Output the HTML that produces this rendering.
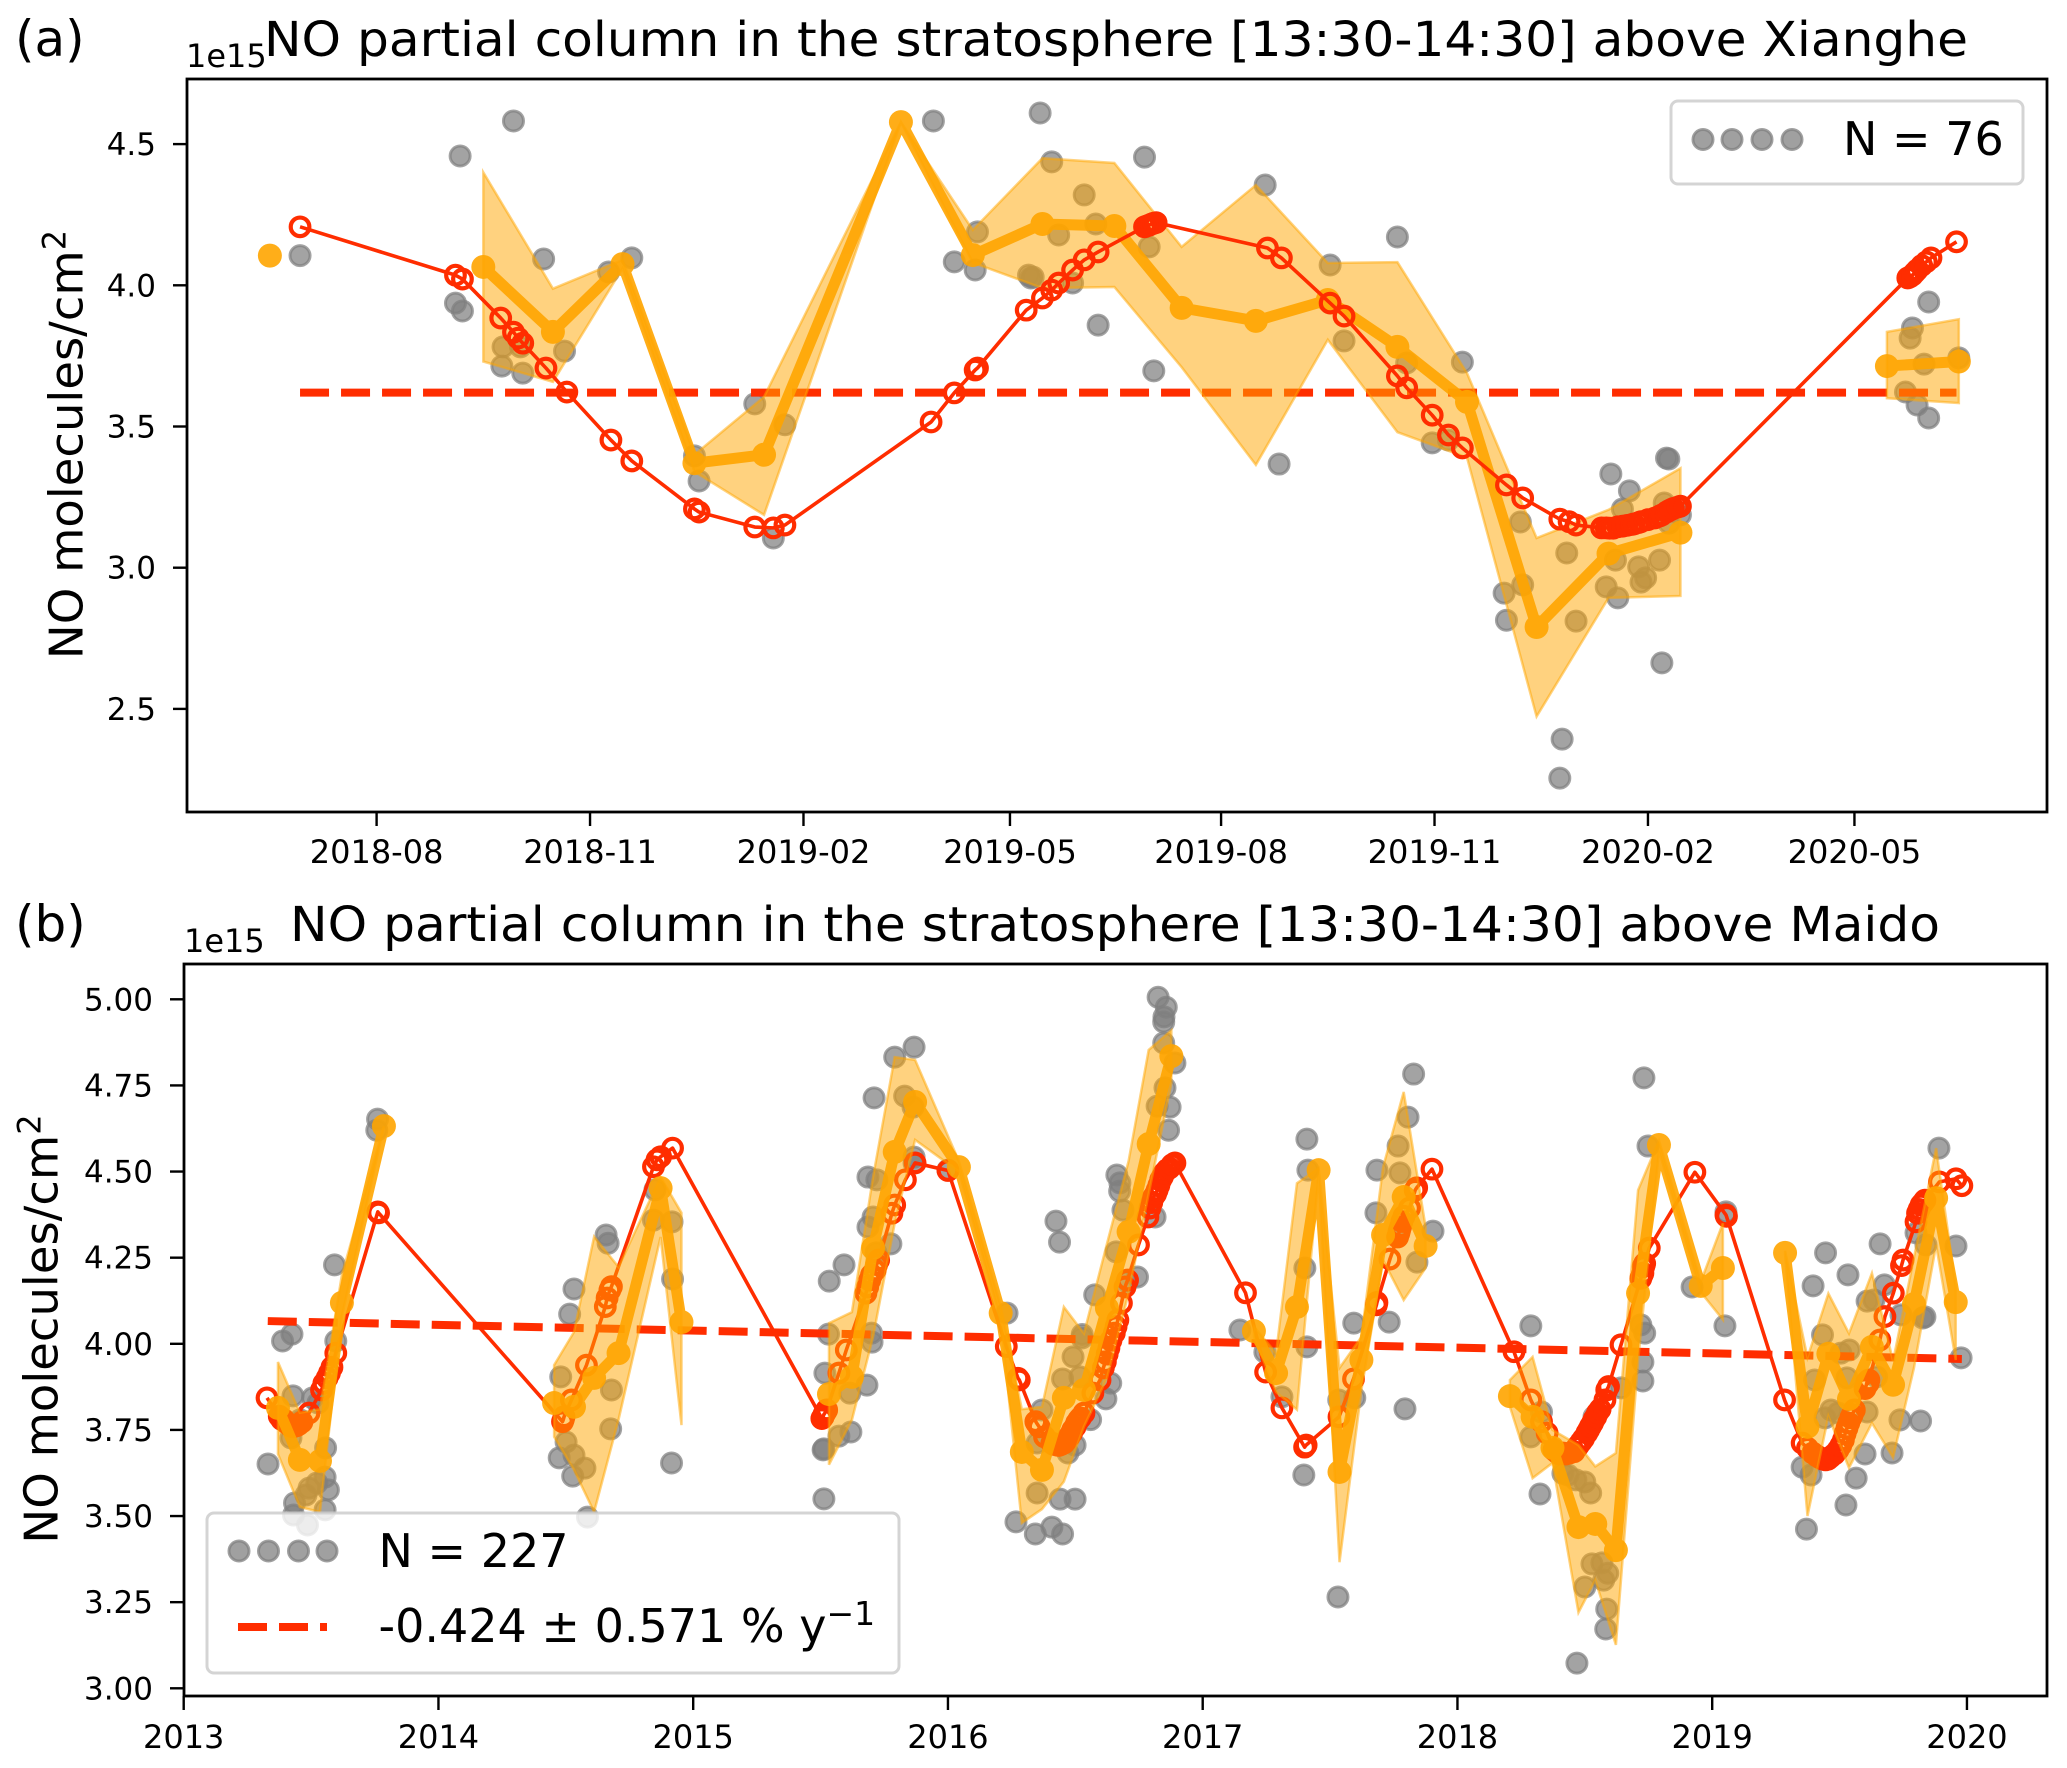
<!DOCTYPE html>
<html lang="en">
<head>
<meta charset="utf-8">
<title>NO partial column in the stratosphere</title>
<style>
html,body{margin:0;padding:0;background:#fff;}
svg{display:block;}
text{font-family:"DejaVu Sans","Liberation Sans",sans-serif;fill:#000;}
.tk{font-size:31px;}
.xt{font-size:32px;}
.big{font-size:46px;}
.ttl{font-size:48px;}
.let{font-size:50px;}
</style>
</head>
<body>
<svg id="chart" xmlns="http://www.w3.org/2000/svg" width="2067" height="1768" viewBox="0 0 2067 1768">
  <rect x="0" y="0" width="2067" height="1768" fill="#fff"/>
  <g id="panelA"></g>
  <g id="panelB"></g>

  <text class="let" x="15" y="56">(a)</text>
  <text class="ttl" x="264" y="56" textLength="1704" lengthAdjust="spacingAndGlyphs">NO partial column in the stratosphere [13:30-14:30] above Xianghe</text>
  <text class="xt" x="186" y="67">1e15</text>
  <text class="big" transform="translate(82.5,444.5) rotate(-90)" text-anchor="middle" style="font-size:46.5px">NO molecules/cm<tspan dy="-17" font-size="32">2</tspan></text>

  <text class="let" x="15" y="941">(b)</text>
  <text class="ttl" x="290" y="941" textLength="1650" lengthAdjust="spacingAndGlyphs">NO partial column in the stratosphere [13:30-14:30] above Maido</text>
  <text class="xt" x="184" y="952">1e15</text>
  <text class="big" transform="translate(57.5,1329) rotate(-90)" text-anchor="middle" style="font-size:46.5px">NO molecules/cm<tspan dy="-17" font-size="32">2</tspan></text>

  <g>
    <rect x="1671" y="101" width="352" height="83" rx="7" fill="#fff" fill-opacity="0.8" stroke="#ccc" stroke-opacity="0.85" stroke-width="3"/>
    <g fill="#808080" fill-opacity="0.75" stroke="#808080" stroke-opacity="0.75" stroke-width="3">
      <circle cx="1703" cy="139.5" r="10"/>
      <circle cx="1732" cy="139.5" r="10"/>
      <circle cx="1762" cy="139.5" r="10"/>
      <circle cx="1792" cy="139.5" r="10"/>
    </g>
    <text class="big" x="1843" y="155">N = 76</text>
  </g>

  <g>
    <rect x="207" y="1513" width="692" height="160" rx="7" fill="#fff" fill-opacity="0.8" stroke="#ccc" stroke-opacity="0.85" stroke-width="3"/>
    <g fill="#808080" fill-opacity="0.75" stroke="#808080" stroke-opacity="0.75" stroke-width="3">
      <circle cx="239" cy="1551" r="10"/>
      <circle cx="268.5" cy="1551" r="10"/>
      <circle cx="298.5" cy="1551" r="10"/>
      <circle cx="327" cy="1551" r="10"/>
    </g>
    <text class="big" x="378.5" y="1567">N = 227</text>
    <line x1="238" y1="1627" x2="327" y2="1627" stroke="#ff2d00" stroke-width="8" stroke-dasharray="29 12"/>
    <text class="big" x="378.5" y="1642">-0.424 ± 0.571 % y<tspan dy="-17" font-size="33">−1</tspan></text>
  </g>
</svg>

<script>
// ---------- Panel (a): Xianghe. x = days relative to Aug 2018, y = 1e15 molecules/cm2
const aXTickDays = [0, 92, 184, 273, 364, 456, 548, 637];
const aXTickLabels = ['2018-08', '2018-11', '2019-02', '2019-05', '2019-08', '2019-11', '2020-02', '2020-05'];
const aYTickLabels = ['2.5', '3.0', '3.5', '4.0', '4.5'];

const aScatterDays = [-33,36,59,34,37,54.5,62,54,63,72,81,100,110,163,176,137,139,171,240,249,259,258,286,281,282,291,305,331,310,294,300,283,311,333,335,383,411,417,440,444,468,455,462,669,662,661,667,682,659,664,669,389,493,513,494,486,487,517,511,510,532,540,537,534,530,535,544,547,545,553,554,556,557,555,562,557];
const aScatterVals = [4.105,4.458,4.582,3.937,3.909,3.782,3.782,3.714,3.689,4.093,3.767,4.047,4.097,3.58,3.506,3.396,3.307,3.105,4.582,4.083,4.189,4.054,4.61,4.036,4.026,4.437,4.32,4.454,4.217,4.178,4.008,4.029,3.859,4.136,3.697,4.355,4.072,3.803,4.171,3.725,3.728,3.442,3.452,3.941,3.849,3.813,3.721,3.743,3.622,3.576,3.53,3.367,3.162,3.052,2.939,2.91,2.814,2.811,2.393,2.255,3.332,3.272,3.208,3.027,2.932,2.893,3.003,2.964,2.949,3.027,2.663,3.388,3.385,3.229,3.187,3.158];

const aMeanDays = [-46,null,46,76,106,137,167,226,257,287,318,347,379,410,440,470,500,531,562,null,651,682];
const aMeanVals = [4.105,null,4.065,3.835,4.075,3.37,3.4,4.578,4.107,4.217,4.21,3.92,3.874,3.948,3.782,3.587,2.79,3.05,3.124,null,3.714,3.73];
const aBandUpper = [4.105,null,4.4,3.988,4.09,3.4,3.605,4.578,4.196,4.45,4.433,4.136,4.355,4.079,4.082,3.689,3.105,3.205,3.352,null,3.835,3.88];
const aBandLower = [4.105,null,3.73,3.658,4.06,3.34,3.187,4.578,4.08,3.99,3.994,3.71,3.364,3.807,3.48,3.39,2.473,2.893,2.9,null,3.6,3.583];

const aModelDays = [-33,34,37,53.5,59,61,63,73,82,101,110,137,139,163,171,176,239,249,258,259,280,287,291,294,300,305,311,331,332,333,334,335,336,384,390,411,417,440,444,455,462,468,487,494,510,514,517,528,530,531.5,533,535,537,539,541,542,544,545,548,551,553,554,556,557,558,559,561,562,660,661,662,663,664,666,668,670,681];
const aModelVals = [4.207,4.036,4.022,3.884,3.834,3.813,3.795,3.707,3.622,3.452,3.378,3.208,3.197,3.144,3.141,3.151,3.516,3.619,3.7,3.707,3.912,3.955,3.983,4.008,4.054,4.09,4.118,4.207,4.21,4.213,4.217,4.22,4.222,4.132,4.097,3.937,3.891,3.679,3.637,3.54,3.47,3.424,3.293,3.247,3.172,3.163,3.151,3.141,3.141,3.14,3.14,3.145,3.147,3.15,3.153,3.155,3.16,3.163,3.17,3.176,3.183,3.187,3.197,3.202,3.206,3.21,3.215,3.218,4.026,4.03,4.036,4.045,4.054,4.07,4.083,4.097,4.154];

const aTrendDays = [-33, 681];
const aTrendVals = [3.62, 3.62];

// ---------- Panel (b): Maido. x = decimal year, y = 1e15 molecules/cm2
const bXTickYears = [2013, 2014, 2015, 2016, 2017, 2018, 2019, 2020];
const bYTickLabels = ['3.00', '3.25', '3.50', '3.75', '4.00', '4.25', '4.50', '4.75', '5.00'];

const bScatterYears = [2013.761,2013.758,2013.592,2013.425,2013.388,2013.597,2013.429,2013.506,2013.421,2013.557,2013.331,2013.555,2013.523,2013.568,2013.492,2013.48,2013.435,2013.555,2013.431,2013.486,2013.527,2013.457,
2014.532,2014.515,2014.658,2014.666,2014.48,2014.679,2014.676,2014.501,2014.844,2014.917,2014.919,2014.915,2014.474,2014.532,2014.575,2014.527,2014.585,2014.85,
2015.531,2015.517,2015.51,2015.513,2015.534,2015.592,2015.572,2015.619,2015.615,2015.682,2015.7,2015.702,2015.71,2015.686,2015.721,2015.706,2015.686,2015.776,2015.791,2015.867,2015.83,2015.863,2015.867,2016.0,2015.718,2015.867,2015.513,
2016.232,2016.369,2016.45,2016.491,2016.526,2016.527,2016.518,2016.576,2016.639,2016.424,2016.438,2016.663,2016.674,2016.675,2016.687,2016.66,2016.744,2016.703,2016.813,2016.825,2016.857,2016.848,2016.847,2016.847,2016.891,2016.852,2016.821,2016.872,2016.866,2016.35,2016.499,2016.471,2016.35,2016.44,2016.499,2016.267,2016.343,2016.408,2016.45,2016.56,2016.62,
2017.146,2017.244,2017.311,2017.409,2017.413,2017.401,2017.409,2017.593,2017.597,2017.534,2017.684,2017.68,2017.732,2017.794,2017.771,2017.774,2017.767,2017.806,2017.828,2017.841,2017.904,2017.397,2017.531,
2018.288,2018.288,2018.33,2018.324,2018.414,2018.465,2018.5,2018.523,2018.536,2018.642,2018.72,2018.735,2018.728,2018.728,2018.732,2018.748,2018.921,2019.054,2019.05,2018.469,2018.5,2018.528,2018.567,2018.59,2018.574,2018.586,2018.582,2018.434,
2019.353,2019.388,2019.37,2019.396,2019.445,2019.533,2019.659,2019.608,2019.635,2019.676,2019.433,2019.505,2019.538,2019.402,2019.529,2019.466,2019.443,2019.494,2019.608,2019.6,2019.565,2019.525,2019.737,2019.818,2019.706,2019.741,2019.835,2019.827,2019.8,2019.839,2019.957,2019.89,2019.977,2019.645];
const bScatterVals = [4.652,4.62,4.229,4.028,4.008,4.008,3.849,3.843,3.727,3.698,3.651,3.613,3.596,3.576,3.581,3.561,3.538,3.518,3.503,3.474,3.828,3.779,
4.159,4.086,4.316,4.292,3.904,3.866,3.753,3.715,4.359,4.354,4.188,3.654,3.669,3.677,3.639,3.616,3.497,4.447,
4.028,3.915,3.692,3.695,4.182,4.229,3.732,3.744,3.857,3.88,4.031,4.005,4.714,4.484,4.476,4.368,4.339,4.29,4.832,4.861,4.719,4.687,4.542,4.504,4.264,4.525,3.55,
4.089,3.808,3.898,3.962,4.017,4.027,3.904,4.142,3.886,4.356,4.295,4.49,4.443,4.467,4.388,4.267,4.194,4.179,4.368,5.006,4.977,4.949,4.934,4.873,4.815,4.743,4.69,4.687,4.62,3.712,3.706,3.683,3.567,3.549,3.549,3.483,3.448,3.468,3.448,3.78,3.84,
4.04,3.976,3.846,4.594,4.504,4.22,3.991,4.06,3.843,3.837,4.504,4.38,4.063,3.811,4.327,4.496,4.574,4.658,4.783,4.237,4.327,3.619,3.265,
4.052,3.73,3.802,3.564,3.624,3.605,3.599,3.567,3.788,3.872,4.055,4.031,3.947,3.892,4.772,4.574,4.165,4.383,4.052,3.073,3.294,3.361,3.364,3.334,3.314,3.23,3.172,3.619,
3.642,3.619,3.462,4.168,4.264,4.2,4.29,4.124,4.127,4.171,4.026,3.973,3.982,3.895,3.901,3.808,3.785,3.799,3.802,3.68,3.61,3.532,3.779,3.776,3.683,4.084,4.078,4.075,4.322,4.287,4.284,4.568,3.959,3.904];

const bMeanYears = [2013.37,2013.456,2013.535,2013.621,2013.786,null,
2014.454,2014.532,2014.611,2014.707,2014.872,2014.954,null,
2015.533,2015.623,2015.706,2015.791,2015.871,2016.043,2016.207,2016.29,2016.369,2016.455,2016.534,2016.624,2016.709,2016.788,2016.877,null,
2017.201,2017.288,2017.37,2017.455,2017.537,2017.623,2017.708,2017.789,2017.875,null,
2018.206,2018.295,2018.373,2018.475,2018.541,2018.622,2018.709,2018.791,2018.955,2019.042,null,
2019.286,2019.374,2019.456,2019.537,2019.627,2019.71,2019.792,2019.879,2019.956];
const bMeanVals = [3.814,3.663,3.66,4.119,4.632,null,
3.828,3.817,3.901,3.973,4.452,4.063,null,
3.854,3.904,4.278,4.557,4.702,4.513,4.089,3.686,3.634,3.843,3.866,4.104,4.325,4.58,4.835,null,
4.037,3.915,4.107,4.504,3.628,3.953,4.316,4.426,4.284,null,
3.848,3.788,3.698,3.468,3.477,3.401,4.147,4.577,4.168,4.22,null,
4.264,3.759,3.971,3.84,3.991,3.881,4.115,4.423,4.121];
const bBandUpper = [3.947,3.8,3.81,4.2,4.632,null,
3.938,4.034,4.311,4.223,4.484,4.38,null,
4.06,4.092,4.484,4.832,4.824,4.53,4.11,3.81,3.817,4.107,4.03,4.29,4.53,4.853,4.91,null,
4.05,3.973,4.466,4.51,3.93,4.02,4.513,4.731,4.339,null,
3.895,3.962,3.75,3.706,3.644,3.683,4.446,4.59,4.18,4.35,null,
4.27,3.96,4.146,4.03,4.205,3.95,4.25,4.568,4.165];
const bBandLower = [3.68,3.526,3.512,4.08,4.632,null,
3.73,3.634,3.512,3.78,4.31,3.764,null,
3.649,3.779,4.02,4.35,4.592,4.5,4.07,3.48,3.52,3.6,3.76,3.9,4.147,4.436,4.757,null,
4.02,3.86,3.809,4.49,3.366,3.866,4.243,4.127,4.22,null,
3.817,3.61,3.654,3.22,3.314,3.126,3.95,4.56,4.15,4.07,null,
4.26,3.5,3.79,3.64,3.77,3.67,3.93,4.287,3.953];

const bModelYears = [2013.327,2013.375,2013.385,2013.394,2013.405,2013.418,2013.429,2013.443,2013.452,2013.464,2013.492,2013.541,2013.55,2013.563,2013.572,2013.582,2013.597,2013.762,2013.765,
2014.487,2014.49,2014.493,2014.522,2014.581,2014.655,2014.662,2014.673,2014.679,2014.844,2014.858,2014.872,2014.919,
2015.505,2015.51,2015.513,2015.517,2015.52,2015.524,2015.572,2015.601,2015.678,2015.685,2015.693,2015.7,2015.714,2015.72,2015.728,2015.78,2015.791,2015.833,2015.871,2016.0,
2016.229,2016.275,2016.28,2016.345,2016.348,2016.358,2016.379,2016.408,2016.415,2016.428,2016.435,2016.445,2016.456,2016.465,2016.475,2016.485,2016.49,2016.499,2016.505,2016.513,2016.52,2016.534,2016.569,2016.597,2016.61,2016.618,2016.625,2016.632,2016.64,2016.653,2016.66,2016.667,2016.681,2016.695,2016.705,2016.748,2016.785,2016.793,2016.8,2016.807,2016.815,2016.821,2016.828,2016.835,2016.842,2016.849,2016.86,2016.87,2016.88,2016.891,
2017.168,2017.247,2017.311,2017.4,2017.403,2017.406,2017.535,2017.592,2017.682,2017.684,2017.735,2017.765,2017.77,2017.773,2017.777,2017.782,2017.79,2017.812,2017.834,2017.84,2017.9,
2018.222,2018.288,2018.33,2018.352,2018.379,2018.39,2018.4,2018.415,2018.425,2018.44,2018.458,2018.47,2018.475,2018.486,2018.495,2018.508,2018.515,2018.522,2018.53,2018.536,2018.543,2018.55,2018.56,2018.579,2018.586,2018.593,2018.642,2018.72,2018.725,2018.728,2018.729,2018.732,2018.735,2018.753,2018.932,2019.054,2019.055,2019.056,
2019.284,2019.353,2019.374,2019.395,2019.41,2019.423,2019.435,2019.445,2019.455,2019.466,2019.48,2019.494,2019.505,2019.515,2019.522,2019.529,2019.536,2019.544,2019.55,2019.558,2019.6,2019.605,2019.608,2019.612,2019.615,2019.658,2019.678,2019.711,2019.743,2019.749,2019.8,2019.806,2019.812,2019.82,2019.828,2019.835,2019.892,2019.957,2019.98];
const bModelVals = [3.843,3.79,3.78,3.779,3.77,3.762,3.759,3.762,3.766,3.773,3.799,3.866,3.885,3.901,3.915,3.932,3.973,4.383,4.38,
3.774,3.78,3.788,3.837,3.938,4.108,4.133,4.156,4.166,4.514,4.534,4.543,4.568,
3.783,3.788,3.795,3.799,3.803,3.808,3.915,3.982,4.147,4.165,4.185,4.2,4.214,4.23,4.243,4.379,4.403,4.476,4.525,4.503,
3.992,3.9,3.895,3.774,3.77,3.759,3.73,3.712,3.708,3.706,3.705,3.708,3.712,3.72,3.73,3.741,3.75,3.759,3.77,3.779,3.785,3.799,3.857,3.895,3.93,3.948,3.97,3.988,4.01,4.031,4.05,4.069,4.118,4.165,4.185,4.287,4.368,4.394,4.41,4.426,4.435,4.446,4.46,4.476,4.485,4.496,4.505,4.51,4.52,4.525,
4.148,3.918,3.814,3.7,3.703,3.706,3.788,3.898,4.113,4.12,4.246,4.31,4.321,4.33,4.34,4.355,4.37,4.394,4.446,4.453,4.507,
3.977,3.837,3.774,3.741,3.692,3.685,3.68,3.683,3.68,3.683,3.687,3.7,3.705,3.716,3.725,3.741,3.75,3.76,3.77,3.78,3.788,3.8,3.81,3.837,3.866,3.876,3.997,4.19,4.2,4.205,4.224,4.225,4.233,4.278,4.498,4.374,4.372,4.37,
3.837,3.712,3.697,3.683,3.675,3.669,3.665,3.663,3.665,3.672,3.68,3.692,3.705,3.721,3.74,3.755,3.77,3.785,3.795,3.808,3.87,3.88,3.89,3.885,3.895,4.011,4.079,4.147,4.227,4.243,4.354,4.379,4.39,4.403,4.41,4.417,4.47,4.479,4.459];

const bTrendYears = [2013.33, 2019.98];
const bTrendVals = [4.066, 3.956];

// ---------- axis functions
function axisAX(d) { return 376.6 + 2.32 * d; }
function axisAY(v) { return 285.3 + (4 - v) * 282.4; }
function axisBX(y) { return 183.7 + 254.75 * (y - 2013); }
function axisBY(v) { return 1688.3 - (v - 3) * 344.5; }

const SVGNS = 'http://www.w3.org/2000/svg';
const RED = '#ff2d00';
const ORANGE = '#ffa500';

function make(parent, tag, attrs) {
  const el = document.createElementNS(SVGNS, tag);
  for (const k in attrs) el.setAttribute(k, attrs[k]);
  parent.appendChild(el);
  return el;
}

function segments(xs) {
  const out = [];
  let cur = [];
  xs.forEach(function (x, i) {
    if (x === null) { if (cur.length) out.push(cur); cur = []; }
    else cur.push(i);
  });
  if (cur.length) out.push(cur);
  return out;
}

function drawScatter(root, prefix, xs, ys, fx, fy) {
  const g = make(root, 'g', { fill: '#808080', 'fill-opacity': 0.72, stroke: '#808080', 'stroke-opacity': 0.72, 'stroke-width': 3 });
  
  
  xs.forEach(function (x, i) {
    const c = make(g, 'circle', { cx: fx(x), cy: fy(ys[i]), r: 10 });
    
    
  });
}

function drawTrend(root, prefix, xs, ys, fx, fy) {
  const l = make(root, 'line', { x1: fx(xs[0]), y1: fy(ys[0]), x2: fx(xs[1]), y2: fy(ys[1]), stroke: RED, 'stroke-width': 8, 'stroke-dasharray': '29 12' });
  
  
}

function drawModel(root, prefix, xs, ys, fx, fy) {
  const g = make(root, 'g', {});
  
  
  const pts = xs.map(function (x, i) { return fx(x) + ',' + fy(ys[i]); }).join(' ');
  const line = make(g, 'polyline', { points: pts, fill: 'none', stroke: RED, 'stroke-width': 3.6, 'stroke-linejoin': 'round' });
  
  
  xs.forEach(function (x, i) {
    const c = make(g, 'circle', { cx: fx(x), cy: fy(ys[i]), r: 9.3, fill: 'none', stroke: RED, 'stroke-width': 4.2 });
    
    
  });
}

function drawBand(root, prefix, xs, up, lo, fx, fy) {
  const g = make(root, 'g', { fill: ORANGE, 'fill-opacity': 0.5, stroke: ORANGE, 'stroke-opacity': 0.5, 'stroke-width': 2.5, 'stroke-linejoin': 'miter' });
  
  
  segments(xs).forEach(function (seg) {
    if (seg.length < 2) return;
    const top = seg.map(function (i) { return fx(xs[i]) + ',' + fy(up[i]); });
    const bot = seg.slice().reverse().map(function (i) { return fx(xs[i]) + ',' + fy(lo[i]); });
    const p = make(g, 'polygon', { points: top.concat(bot).join(' ') });
    
    
  });
}

function drawMean(root, prefix, xs, ys, fx, fy) {
  const g = make(root, 'g', { opacity: 0.9 });
  
  
  segments(xs).forEach(function (seg) {
    if (seg.length < 2) return;
    const pts = seg.map(function (i) { return fx(xs[i]) + ',' + fy(ys[i]); }).join(' ');
    const line = make(g, 'polyline', { points: pts, fill: 'none', stroke: ORANGE, 'stroke-width': 11, 'stroke-linejoin': 'round' });
    
    
  });
  xs.forEach(function (x, i) {
    if (x === null) return;
    const c = make(g, 'circle', { cx: fx(x), cy: fy(ys[i]), r: 12, fill: ORANGE });
    
    
  });
}

function drawAxes(root, prefix, box, xPos, xLabels, xBase, yVals, yLabels, fy, yRight) {
  const frame = make(root, 'rect', { x: box.l, y: box.t, width: box.r - box.l, height: box.b - box.t, fill: 'none', stroke: '#000', 'stroke-width': 2.8 });
  
  
  xPos.forEach(function (x, i) {
    const t = make(root, 'line', { x1: x, x2: x, y1: box.b, y2: box.b + 14, stroke: '#000', 'stroke-width': 2.4 });
    
    
    const lab = make(root, 'text', { x: x, y: xBase, 'text-anchor': 'middle', class: 'xt' });
    
    
    lab.textContent = xLabels[i];
  });
  yVals.forEach(function (v, i) {
    const y = fy(v);
    const t = make(root, 'line', { x1: box.l - 14, x2: box.l, y1: y, y2: y, stroke: '#000', 'stroke-width': 2.4 });
    
    
    const lab = make(root, 'text', { x: yRight, y: y + 11, 'text-anchor': 'end', class: 'tk' });
    
    
    lab.textContent = yLabels[i];
  });
}

// ---------- render panel (a)
const rootA = document.getElementById('panelA');
const bgA = make(rootA, 'rect', { x: 187, y: 79, width: 1860, height: 733, fill: '#fff' });


drawScatter(rootA, 'panel-a', aScatterDays, aScatterVals, axisAX, axisAY);
drawTrend(rootA, 'panel-a', aTrendDays, aTrendVals, axisAX, axisAY);
drawBand(rootA, 'panel-a', aMeanDays, aBandUpper, aBandLower, axisAX, axisAY);
drawMean(rootA, 'panel-a', aMeanDays, aMeanVals, axisAX, axisAY);
drawModel(rootA, 'panel-a', aModelDays, aModelVals, axisAX, axisAY);
drawAxes(rootA, 'panel-a', { l: 187, r: 2047, t: 79, b: 812 },
  aXTickDays.map(axisAX), aXTickLabels, 863,
  aYTickLabels.map(Number), aYTickLabels, axisAY, 156);

// ---------- render panel (b)
const rootB = document.getElementById('panelB');
const bgB = make(rootB, 'rect', { x: 184, y: 964, width: 1863, height: 732, fill: '#fff' });


drawScatter(rootB, 'panel-b', bScatterYears, bScatterVals, axisBX, axisBY);
drawTrend(rootB, 'panel-b', bTrendYears, bTrendVals, axisBX, axisBY);
drawModel(rootB, 'panel-b', bModelYears, bModelVals, axisBX, axisBY);
drawBand(rootB, 'panel-b', bMeanYears, bBandUpper, bBandLower, axisBX, axisBY);
drawMean(rootB, 'panel-b', bMeanYears, bMeanVals, axisBX, axisBY);
drawAxes(rootB, 'panel-b', { l: 184, r: 2047, t: 964, b: 1696 },
  bXTickYears.map(axisBX), bXTickYears.map(String), 1748,
  bYTickLabels.map(Number), bYTickLabels, axisBY, 153);
</script>
</body>
</html>
